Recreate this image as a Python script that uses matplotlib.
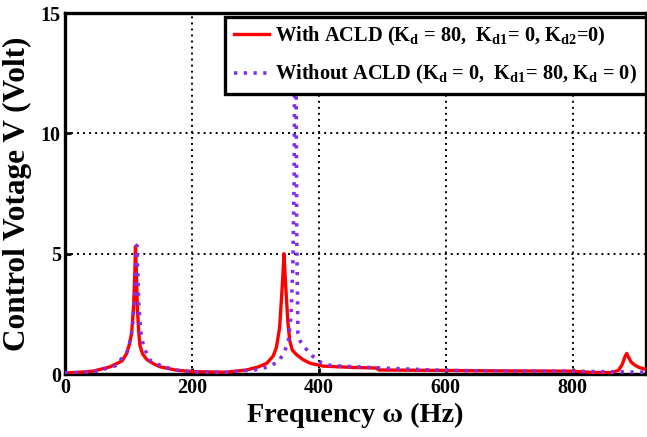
import matplotlib
matplotlib.use("Agg")
import matplotlib.pyplot as plt
import numpy as np

# values
red_f = [0, 20, 44, 71, 90, 97, 101, 105, 108, 110, 111, 112.5, 114, 116, 118, 122, 129, 140,
         150, 176, 202, 255, 286, 305, 318, 328, 333, 338, 341, 343.5, 345, 347, 349, 351,
         354, 358, 365, 375, 386, 407, 450, 490, 495, 600, 700, 800, 830, 860, 872, 878,
         882, 885, 888, 892, 898, 905, 915]
red_v = [0.05, 0.07, 0.12, 0.3, 0.55, 0.85, 1.2, 1.7, 2.8, 4.2, 5.3, 4.2, 2.75, 1.8, 1.2, 0.85,
         0.6, 0.42, 0.3, 0.16, 0.1, 0.08, 0.17, 0.3, 0.45, 0.75, 1.1, 1.9, 3.1, 4.2, 5.0,
         4.0, 3.1, 2.2, 1.4, 1.0, 0.8, 0.6, 0.45, 0.33, 0.28, 0.25, 0.17, 0.15, 0.13, 0.12,
         0.07, 0.06, 0.15, 0.4, 0.7, 0.86, 0.7, 0.5, 0.37, 0.27, 0.2]

purple_f = [0, 25, 50, 80, 100, 106, 110, 112, 113, 114.5, 116, 119, 124, 135, 155, 180,
            200, 250, 300, 320, 335, 345, 352, 356, 359, 361, 363, 365, 367, 371, 378,
            390, 405, 420, 500, 600, 700, 800, 900, 915]
purple_v = [0.05, 0.07, 0.12, 0.35, 1.0, 1.9, 3.3, 4.6, 5.35, 4.3, 3.0, 1.8, 1.1, 0.55,
            0.3, 0.15, 0.1, 0.07, 0.18, 0.3, 0.5, 0.85, 1.4, 2.4, 4.5, 8.0, 20.0, 6.0,
            1.7, 1.35, 1.1, 0.75, 0.45, 0.35, 0.25, 0.15, 0.13, 0.12, 0.08, 0.08]

x_ticks = [0, 200, 400, 600, 800]
y_ticks = [0, 5, 10, 15]

label_with = r'With ACLD (K$_{\rm d}$ = 80,  K$_{\rm d1}$= 0, K$_{\rm d2}$=0)'
label_without = r'Without ACLD (K$_{\rm d}$ = 0,  K$_{\rm d1}$= 80, K$_{\rm d}$ = 0)'

plt.rcParams['font.family'] = ['Liberation Serif', 'DejaVu Serif']
plt.rcParams['font.weight'] = 'bold'
plt.rcParams['mathtext.fontset'] = 'custom'
plt.rcParams['mathtext.rm'] = 'Liberation Serif:bold'
plt.rcParams['mathtext.it'] = 'Liberation Serif:bold'
plt.rcParams['mathtext.bf'] = 'Liberation Serif:bold'
plt.rcParams['mathtext.default'] = 'rm'

fig = plt.figure(figsize=(6.47, 4.37), dpi=100)
ax = fig.add_axes([0.1005, 0.144, 0.8975, 0.826])

ax.plot(red_f, red_v, color='#ff0000', lw=2.4, label=label_with, zorder=3)
ax.plot(purple_f, purple_v, color='#7f2fef', lw=2.6, linestyle=(0, (0.9, 1.8)),
        label=label_without, zorder=3)

ax.set_xlim(0, 915)
ax.set_ylim(0, 15)
ax.set_xticks(x_ticks)
ax.set_yticks(y_ticks)
ax.grid(True, color='black', linestyle=(0, (1, 2.1)), lw=1.4)
ax.tick_params(direction='in', length=4, width=2, labelsize=14.5, pad=3)
for lab in ax.get_xticklabels() + ax.get_yticklabels():
    lab.set_fontweight('bold')
for s in ax.spines.values():
    s.set_linewidth(2.4)

ax.set_xlabel('Frequency ω (Hz)', fontsize=20.3, fontweight='bold', labelpad=3)
ax.set_ylabel('Control Votage V (Volt)', fontsize=22.5, fontweight='bold', labelpad=6)

leg = ax.legend(loc='upper right', bbox_to_anchor=(1.0, 0.99), borderaxespad=0,
                fontsize=14.7, frameon=True, fancybox=False, framealpha=1,
                handlelength=1.75, handletextpad=0.3, borderpad=0.4, labelspacing=0.75)
leg.get_frame().set_edgecolor('black')
leg.get_frame().set_linewidth(2.4)
leg.set_zorder(5)

fig.savefig('out.png', dpi=100)
